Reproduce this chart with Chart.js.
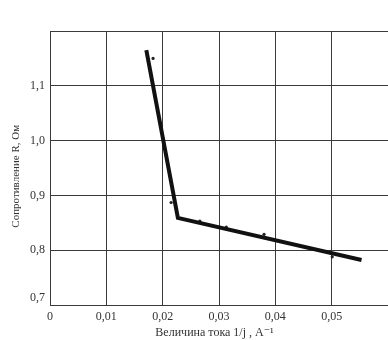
<!DOCTYPE html>
<html>
<head>
<meta charset="utf-8">
<script src="https://cdn.jsdelivr.net/npm/chart.js@4"></script>
<style>
  html, body { margin: 0; padding: 0; background: #fff; overflow: hidden; }
  #wrap { width: 392px; height: 340px; }
</style>
</head>
<body>
<div id="wrap"><canvas id="c"></canvas></div>
<script>
// fitted broken line
const lineX = [0.0171, 0.0227, 0.0553];
const lineY = [1.165, 0.859, 0.782];
// measured points
const dotX = [0.0183, 0.0215, 0.0266, 0.0313, 0.0380, 0.0501];
const dotY = [1.150, 0.887, 0.853, 0.842, 0.829, 0.788];

const xTitle = "Величина тока 1/j , А⁻¹";
const yTitle = "Сопротивление R, Ом";

const font = "'Liberation Serif', 'DejaVu Serif', serif";
const ink = "#3a3a3a";

const toPts = (xs, ys) => xs.map((x, i) => ({ x, y: ys[i] }));
const comma = (v, d) => (v === 0 ? "0" : v.toFixed(d).replace(".", ","));
const near = (a, b) => Math.abs(a - b) < 1e-9;

new Chart(document.getElementById("c").getContext("2d"), {
  type: "scatter",
  data: {
    datasets: [
      {
        data: toPts(lineX, lineY),
        showLine: true,
        borderColor: "#111",
        borderWidth: 4,
        pointRadius: 0,
        borderCapStyle: "butt",
      },
      {
        data: toPts(dotX, dotY),
        backgroundColor: "#222",
        borderWidth: 0,
        pointRadius: 1.6,
      },
    ],
  },
  options: {
    responsive: true,
    maintainAspectRatio: false,
    animation: false,
    layout: { padding: { top: 31, right: 0, left: 0, bottom: 0 } },
    plugins: { legend: { display: false }, tooltip: { enabled: false } },
    scales: {
      x: {
        min: 0,
        max: 0.06,
        afterFit: (s) => {
          s.height = 35;
          s.paddingLeft = 0;
          s.paddingRight = 0;
        },
        grid: { color: ink, lineWidth: 1, drawTicks: false },
        border: { color: ink },
        ticks: {
          stepSize: 0.01,
          padding: 5,
          color: "#333",
          font: { family: font, size: 12 },
          callback: (v) => (near(v, 0.06) ? "" : comma(v, 2)),
        },
        title: {
          display: true,
          text: xTitle + "\u00a0\u00a0\u00a0",
          color: "#333",
          font: { family: font, size: 12 },
          padding: { top: 0, bottom: 0 },
        },
      },
      y: {
        min: 0.7,
        max: 1.2,
        afterFit: (s) => {
          s.width = 50;
          s.paddingTop = 0;
          s.paddingBottom = 0;
        },
        grid: { color: ink, lineWidth: 1, drawTicks: false },
        border: { color: ink },
        ticks: {
          stepSize: 0.1,
          padding: 5,
          color: "#333",
          font: { family: font, size: 12 },
          callback: (v) => {
            if (near(v, 1.2)) return "";
            if (near(v, 0.7)) return [comma(v, 1), ""];
            return comma(v, 1);
          },
        },
        title: {
          display: true,
          text: yTitle + "\u00a0\u00a0\u00a0\u00a0\u00a0\u00a0",
          color: "#333",
          font: { family: font, size: 11 },
          padding: { top: 10, bottom: 0 },
        },
      },
    },
  },
});
</script>
</body>
</html>
